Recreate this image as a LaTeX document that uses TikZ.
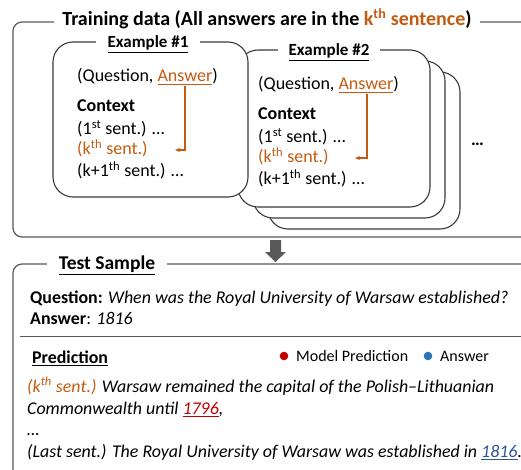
\documentclass[tikz,border=0pt]{standalone}
\usepackage{fontspec}
\setmainfont{Carlito}
\usetikzlibrary{arrows.meta}
\definecolor{org}{HTML}{C55A11}
\definecolor{edgec}{HTML}{595959}
\definecolor{boxc}{HTML}{3A3A3A}
\definecolor{predred}{HTML}{C00000}
\definecolor{ansblue}{HTML}{2F5597}
\definecolor{dotblue}{HTML}{2E75B6}
\newcommand\myul[2][1pt]{\leavevmode\vtop{\hbox{#2}\kern1.6pt\hrule height #1}}
\begin{document}
\begin{tikzpicture}[x=1pt,y=-1pt,
  frame/.style={draw=edgec, line width=1.2pt, rounded corners=9pt},
  exbox/.style={draw=boxc, line width=1.1pt, fill=white, rounded corners=20pt},
  txt/.style={anchor=base west, inner sep=0pt, font=\fontsize{18}{21}\selectfont},
  big/.style={anchor=base west, inner sep=0pt, font=\fontsize{17.9}{21}\selectfont},
  ttl/.style={fill=white, anchor=base, inner ysep=1pt},
  oarrow/.style={draw=org, line width=1.2pt, -{Stealth[length=5pt,width=4pt]}}]
\useasboundingbox (0,0) rectangle (521,470);
\clip (0,0) rectangle (521,470);

% training frame
\draw[frame] (13,22) rectangle (560,237);
\node[ttl, inner xsep=8pt, font=\fontsize{20}{23}\selectfont\bfseries] (train) at (267,26)
  {Training data (All answers are in the {\color{org}k\textsuperscript{th} sentence})};

% stacked example boxes
\draw[exbox] (268,72) rectangle (460,229);
\draw[exbox] (253,61) rectangle (445,218);
\draw[exbox] (238,50) rectangle (430,207);
\node[ttl, inner xsep=11pt, font=\fontsize{17}{20}\selectfont\bfseries] (ex2) at (329,56) {\myul[0.9pt]{Example \#2}};
\draw[exbox] (53,42) rectangle (248,197);
\node[ttl, inner xsep=12pt, font=\fontsize{17}{20}\selectfont\bfseries] (ex1) at (148,48) {\myul[0.9pt]{Example \#1}};

% example 1 text
\node[txt] (q1) at (77,82) {(Question, {\color{org}\myul[0.8pt]{Answer}})};
\node[txt, font=\fontsize{18}{21}\selectfont\bfseries] (c1) at (77,112) {Context};
\node[txt] (s1a) at (77,135) {(1\textsuperscript{st} sent.) …};
\node[txt, text=org] (s1k) at (77,155) {(k\textsuperscript{th} sent.)};
\node[txt] (s1n) at (77,177) {(k+1\textsuperscript{th} sent.) …};
\coordinate (a1) at (185,86);
\coordinate (t1) at (175,150);
\draw[oarrow] (a1) |- (t1);

% example 2 text
\node[txt] (q2) at (258,90) {(Question, {\color{org}\myul[0.8pt]{Answer}})};
\node[txt, font=\fontsize{18}{21}\selectfont\bfseries] (c2) at (258,120) {Context};
\node[txt] (s2a) at (258,143) {(1\textsuperscript{st} sent.) …};
\node[txt, text=org] (s2k) at (258,163) {(k\textsuperscript{th} sent.)};
\node[txt] (s2n) at (258,185) {(k+1\textsuperscript{th} sent.) …};
\coordinate (a2) at (367,94);
\coordinate (t2) at (355,158);
\draw[oarrow] (a2) |- (t2);

\node[txt, font=\fontsize{18}{21}\selectfont\bfseries] (more) at (471,146) {…};

% down arrow
\fill[edgec] (270,240) -- (281,240) -- (281,252) -- (286,252) -- (275.5,262) -- (265,252) -- (270,252) -- cycle;

% test frame
\draw[frame] (13,264) rectangle (560,500);
\node[ttl, inner xsep=12pt, font=\fontsize{19.5}{22}\selectfont\bfseries] (test) at (107,269) {\myul[0.9pt]{Test Sample}};

\node[big] (qq) at (30,303) {\textbf{Question:} \textit{When was the Royal University of Warsaw established?}};
\node[big] (aa) at (30,324) {\textbf{Answer}: \textit{1816}};
\draw[edgec, line width=1pt] (20,336) -- (560,336);

\node[big, font=\fontsize{17.9}{21}\selectfont\bfseries] (pred) at (32,363) {\myul[0.9pt]{Prediction}};
\fill[predred] (284,356) circle (4.3);
\node[txt, font=\fontsize{16}{19}\selectfont] (lm) at (296,361) {Model Prediction};
\fill[dotblue] (428,356) circle (4.3);
\node[txt, font=\fontsize{16}{19}\selectfont] (la) at (440,361) {Answer};

\node[big, font=\fontsize{17.9}{21}\selectfont\itshape] (p1) at (27,392) {{\color{org}(k\textsuperscript{th} sent.)} Warsaw remained the capital of the Polish–Lithuanian};
\node[big, font=\fontsize{17.9}{21}\selectfont\itshape] (p2) at (27,414) {Commonwealth until {\color{predred}\myul[1.4pt]{1796}},};
\node[big, font=\fontsize{17.9}{21}\selectfont\itshape] (p3) at (27,435) {…};
\node[big, font=\fontsize{17.9}{21}\selectfont\itshape] (p4) at (27,457) {(Last sent.) The Royal University of Warsaw was established in {\color{ansblue}\myul[1pt]{1816}}.};
\end{tikzpicture}
\end{document}
